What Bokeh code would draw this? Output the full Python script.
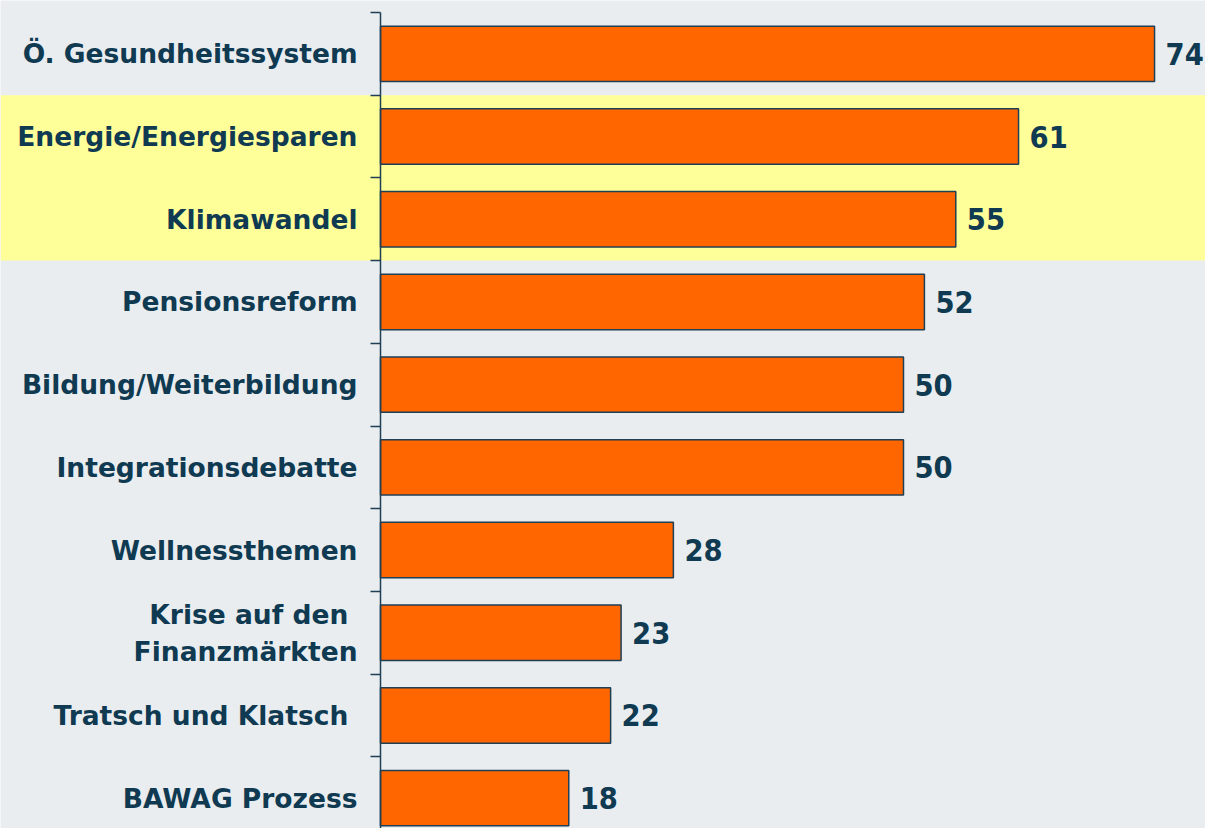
from bokeh.plotting import figure
from bokeh.models import Range1d, FixedTicker, BoxAnnotation, ColumnDataSource
from bokeh.core.properties import value
from bokeh.embed import file_html
from bokeh.resources import INLINE

categories = ["Ö. Gesundheitssystem", "Energie/Energiesparen", "Klimawandel",
              "Pensionsreform", "Bildung/Weiterbildung", "Integrationsdebatte",
              "Wellnessthemen", "Krise auf den \nFinanzmärkten", "Tratsch und Klatsch ",
              "BAWAG Prozess"]
values = [74, 61, 55, 52, 50, 50, 28, 23, 22, 18]
highlighted = ["Energie/Energiesparen", "Klimawandel"]

TEXT = "#0f3a52"
BG = "#e9edef"

idx = list(range(len(categories)))
src = ColumnDataSource(dict(y=idx, v=values, lab=[str(v) for v in values]))

W, H = 1205, 828
AX = 380.0          # pixel position of the value axis
PX_X = 10.46        # pixels per percent
PX_Y = 82.7         # pixels per category
TOP = 12.0          # pixel position of the first category boundary
x0 = -AX / PX_X
x1 = (W - AX) / PX_X
ytop = -0.5 - TOP / PX_Y
ybot = ytop + H / PX_Y

p = figure(width=W, height=H, output_backend="svg", toolbar_location=None,
           x_range=Range1d(x0, x1), y_range=Range1d(ybot, ytop),
           min_border_left=0, min_border_right=0, min_border_top=0, min_border_bottom=0)
p.background_fill_color = BG
p.border_fill_color = BG
p.outline_line_color = None
p.grid.visible = False
p.xaxis.visible = False

hi = [categories.index(c) for c in highlighted]
band = BoxAnnotation(top=min(hi) - 0.5, bottom=max(hi) + 0.5,
                     fill_color="#ffff99", fill_alpha=1.0, line_color=None, level="underlay")
p.add_layout(band)

p.hbar(y="y", right="v", left=0, height=0.67, source=src,
       fill_color="#ff6600", line_color="#1f3f55", line_width=1.5)

p.text(x="v", y="y", text="lab", source=src, x_offset=11,
       text_baseline="middle", text_align="left",
       text_font=value("DejaVu Sans Condensed"), text_font_style="bold",
       text_font_size="30.5px", text_color=TEXT)

ya = p.yaxis[0]
ya.fixed_location = 0
ya.bounds = (-0.5, len(categories) - 0.5)
ya.ticker = FixedTicker(ticks=idx, minor_ticks=[i - 0.5 for i in range(len(categories) + 1)])
ya.major_label_overrides = {i: c for i, c in enumerate(categories)}
ya.major_tick_line_color = None
ya.major_tick_out = 0
ya.major_tick_in = 0
ya.minor_tick_out = 10
ya.minor_tick_in = 0
ya.minor_tick_line_color = "#1f3f55"
ya.minor_tick_line_width = 1.5
ya.axis_line_color = "#1f3f55"
ya.axis_line_width = 1.5
ya.major_label_standoff = 13
ya.major_label_text_font = "DejaVu Sans"
ya.major_label_text_font_style = "bold"
ya.major_label_text_font_size = "26.5px"
ya.major_label_text_color = TEXT

open("out.html", "w").write(file_html(p, INLINE))
